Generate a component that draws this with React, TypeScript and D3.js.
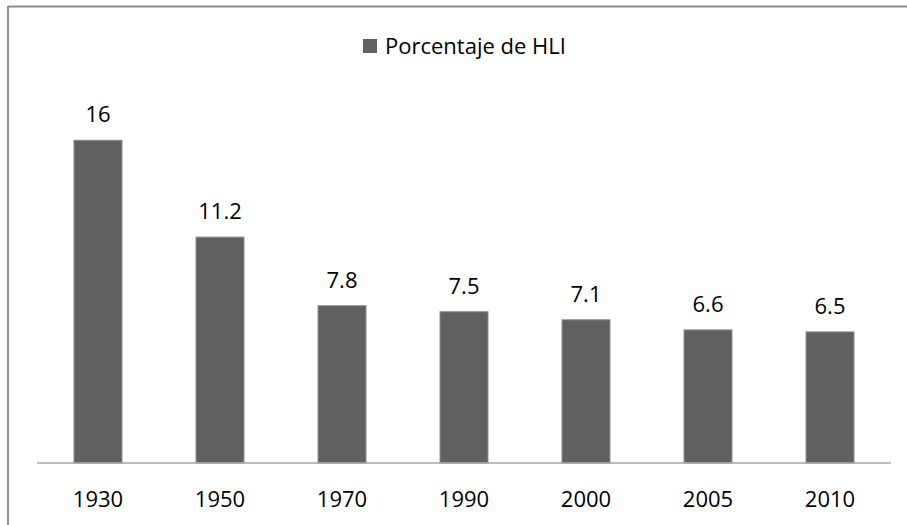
import React from "react";
import * as d3 from "d3";

const categories = ["1930", "1950", "1970", "1990", "2000", "2005", "2010"];
const values = [16, 11.2, 7.8, 7.5, 7.1, 6.6, 6.5];
const valueLabels = ["16", "11.2", "7.8", "7.5", "7.1", "6.6", "6.5"];
const seriesName = "Porcentaje de HLI";

export default function App() {
  const W = 907, H = 525;
  const x = d3.scaleBand().domain(categories).range([37, 891]).paddingInner(0.607).paddingOuter(0.3035);
  const y = d3.scaleLinear().domain([0, 18]).range([463, 100]);
  const font = "'Open Sans', sans-serif";
  const fs = 22;
  return (
    <svg width={W} height={H} style={{ position: "absolute", left: 0, top: 0 }}>
      <rect x={0} y={0} width={W} height={H} fill="#fff" />
      <line x1={8} y1={6.5} x2={W} y2={6.5} stroke="#8c8c8c" strokeWidth={2} />
      <line x1={8} y1={6} x2={8} y2={H} stroke="#8c8c8c" strokeWidth={2} />
      <rect x={363} y={39} width={14} height={14} fill="#606060" />
      <text x={385} y={54} fontFamily={font} fontSize={fs} fill="#000">{seriesName}</text>
      {categories.map((c, i) => (
        <g key={c}>
          <rect x={x(c)!} y={y(values[i])} width={x.bandwidth()} height={y(0) - y(values[i])}
            fill="#606060" stroke="#8a8a8a" strokeWidth={1} />
          <text x={x(c)! + x.bandwidth() / 2} y={y(values[i]) - 18} textAnchor="middle"
            fontFamily={font} fontSize={fs} fill="#000">{valueLabels[i]}</text>
          <text x={x(c)! + x.bandwidth() / 2} y={507} textAnchor="middle"
            fontFamily={font} fontSize={fs} fill="#000">{c}</text>
        </g>
      ))}
      <line x1={37} x2={891} y1={y(0)} y2={y(0)} stroke="#a6a6a6" strokeWidth={1.5} />
    </svg>
  );
}
